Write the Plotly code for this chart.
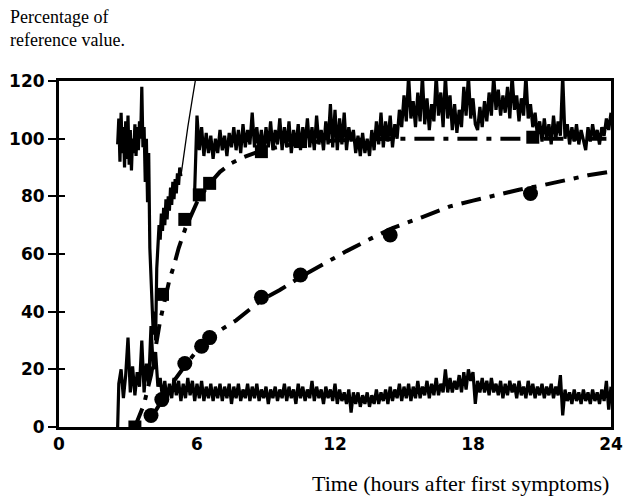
import numpy as np
import plotly.graph_objects as go

# ---------------- data ----------------
# upper monitoring trace, first part (sampled every 0.05 h from 2.55 h)
upper1_start, upper1_step = 2.55, 0.05
upper1_vals = [98, 107, 92, 109, 95, 104, 90, 106, 93, 108,
               91, 103, 89, 100, 95, 105, 94, 104, 96, 106,
               100, 118, 97, 104, 85, 100, 78, 95, 62, 50,
               38, 32, 40, 30, 55, 62, 70, 65, 74, 68,
               76, 70, 79, 72, 80, 75, 83, 77, 85, 79,
               86, 81, 88, 84, 90, 87]
# thin line running off the top of the scale
thin_t = [5.30, 5.40, 5.60, 5.80, 6.05]
thin_v = [87, 93, 104, 114, 126]

# upper monitoring trace, second part (every 0.1 h from 5.9 h)
upper2_start, upper2_step = 5.9, 0.1
upper2_vals = [82, 108, 96, 104, 94, 102, 95, 101, 93, 100,
               95, 103, 96, 101, 94, 102, 97, 104, 96, 103,
               95, 105, 97, 103, 98, 109, 97, 104, 96, 103,
               95, 104, 97, 106, 96, 103, 98, 107, 96, 104,
               97, 106, 95, 103, 97, 105, 96, 104, 98, 107,
               97, 104, 96, 108, 98, 103, 96, 106, 98, 112,
               97, 110, 96, 107, 98, 109, 96, 104, 99, 103,
               95, 101, 94, 102, 95, 100, 94, 103, 96, 106,
               98, 109, 97, 106, 99, 108, 97, 105, 100, 110,
               104, 115, 106, 122, 107, 113, 104, 116, 106, 122,
               105, 114, 103, 112, 106, 122, 108, 116, 104, 122,
               107, 115, 103, 112, 102, 110, 104, 118, 108, 122,
               107, 114, 105, 103, 111, 104, 113, 106, 116, 108,
               122, 110, 117, 108, 115, 109, 118, 107, 122, 110,
               115, 106, 114, 108, 122, 107, 112, 104, 109, 101,
               106, 99, 107, 100, 105, 98, 108, 100, 106, 101,
               122, 100, 105, 98, 104, 99, 105, 98, 103, 99,
               96, 104, 99, 105, 100, 103, 98, 104, 101, 107,
               103, 109]

# lower monitoring trace (every 0.1 h from 2.6 h, starts from zero at 2.55 h)
lower_t0, lower_v0 = 2.55, 0
lower_start, lower_step = 2.6, 0.1
lower_vals = [15, 20, 10, 18, 31, 12, 21, 11, 19, 14,
              30, 12, 22, 15, 35, 20, 26, 14, 17, 10,
              16, 9, 15, 10, 17, 11, 16, 9, 15, 10,
              17, 11, 16, 9, 15, 10, 16, 9, 14, 10,
              15, 9, 14, 10, 15, 9, 14, 10, 15, 8,
              14, 10, 15, 9, 13, 10, 15, 9, 14, 10,
              15, 9, 13, 10, 14, 8, 13, 10, 14, 9,
              13, 10, 15, 9, 14, 10, 13, 8, 15, 10,
              14, 9, 13, 10, 16, 9, 14, 10, 13, 8,
              14, 10, 13, 9, 15, 8, 13, 9, 12, 8,
              13, 5, 12, 8, 12, 7, 11, 8, 12, 7,
              11, 8, 13, 8, 12, 9, 13, 8, 14, 9,
              13, 10, 15, 9, 14, 10, 15, 9, 14, 10,
              16, 10, 14, 11, 16, 10, 15, 11, 17, 11,
              15, 12, 20, 12, 17, 12, 16, 13, 18, 12,
              19, 13, 20, 16, 19, 8, 16, 12, 17, 12,
              16, 11, 17, 12, 15, 11, 16, 10, 15, 11,
              16, 12, 15, 10, 16, 11, 14, 10, 16, 11,
              15, 10, 14, 11, 15, 10, 14, 11, 15, 10,
              14, 11, 18, 4, 13, 9, 12, 8, 13, 9,
              12, 8, 13, 9, 12, 8, 13, 9, 12, 8,
              13, 9, 16, 6, 14]

# measured points (squares) and their fitted curve
sq_t = [3.3, 4.5, 5.47, 6.1, 6.55, 8.8, 10.5, 20.6]
sq_v = [0, 46, 72, 80.5, 84.5, 95.5, 99, 100.5]
sqfit_t = [3.3, 3.7, 4.0, 4.2, 4.4, 4.6, 4.8, 5.0, 5.2, 5.5, 6.0, 6.5, 7.0,
           7.5, 8.0, 8.5, 9.0, 10, 11, 12, 13, 14, 16, 18, 20, 22, 24]
sqfit_v = [0, 8, 18, 28, 37, 44, 51, 56, 62, 69, 78, 84, 88.5,
           91.5, 93.5, 95, 96.3, 97.8, 98.8, 99.4, 99.7, 99.9, 100, 100, 100, 100, 100]

# measured points (circles) and their fitted curve
ci_t = [4.0, 4.47, 5.47, 6.2, 6.55, 8.8, 10.5, 14.4, 20.5]
ci_v = [4, 9.5, 22, 28, 31, 45, 52.7, 66.6, 81]
cifit_t = [4.0, 4.5, 5.0, 5.5, 6.0, 6.5, 7.0, 7.7, 8.3, 8.8, 9.6, 10.5, 11.5,
           12.5, 13.6, 14.5, 15.8, 17, 18, 19, 20, 21, 22, 23, 24]
cifit_v = [3, 9.5, 16, 21.5, 26.5, 30.5, 33.5, 37, 41, 44, 47.5, 52, 56.5,
           61, 65.5, 69, 72.8, 76.5, 78.5, 80.5, 82.3, 83.8, 85.6, 87.3, 88.6]

x_ticks = [0, 6, 12, 18, 24]
y_ticks = [0, 20, 40, 60, 80, 100, 120]

# ---------------- figure ----------------
upper1_t = [upper1_start + upper1_step * i for i in range(len(upper1_vals))]
upper2_t = [upper2_start + upper2_step * i for i in range(len(upper2_vals))]
lower_t = [lower_t0] + [lower_start + lower_step * i for i in range(len(lower_vals))]
lower_v = [lower_v0] + lower_vals

fig = go.Figure()
black = "#000000"
dashpat = "20px,9px,5px,9px"
trace_w = 3.2

fig.add_trace(go.Scatter(x=sqfit_t, y=sqfit_v, mode="lines",
                         line=dict(color=black, width=4, dash=dashpat)))
fig.add_trace(go.Scatter(x=cifit_t, y=cifit_v, mode="lines",
                         line=dict(color=black, width=4, dash=dashpat)))
fig.add_trace(go.Scatter(x=upper1_t, y=upper1_vals, mode="lines",
                         line=dict(color=black, width=trace_w)))
fig.add_trace(go.Scatter(x=thin_t, y=thin_v, mode="lines",
                         line=dict(color=black, width=1.3)))
fig.add_trace(go.Scatter(x=upper2_t, y=upper2_vals, mode="lines",
                         line=dict(color=black, width=trace_w)))
fig.add_trace(go.Scatter(x=lower_t, y=lower_v, mode="lines",
                         line=dict(color=black, width=trace_w)))
fig.add_trace(go.Scatter(x=sq_t, y=sq_v, mode="markers",
                         marker=dict(symbol="square", size=13, color=black)))
fig.add_trace(go.Scatter(x=ci_t, y=ci_v, mode="markers",
                         marker=dict(symbol="circle", size=15, color=black)))
# invisible trace for the inner tick axis
fig.add_trace(go.Scatter(x=[0], y=[0], mode="markers", yaxis="y2",
                         marker=dict(size=1, opacity=0), hoverinfo="skip"))

tickfont = dict(family="DejaVu Sans", size=17, color=black, weight="bold")
serif = dict(family="Liberation Serif", color=black)

fig.update_layout(
    width=626, height=498,
    margin=dict(l=59, r=15, t=81, b=71, autoexpand=False),
    paper_bgcolor="white", plot_bgcolor="white",
    showlegend=False,
    xaxis=dict(range=[0, 24], tickvals=x_ticks, ticktext=[str(v) for v in x_ticks],
               showgrid=False, zeroline=False, showline=True, linecolor=black,
               linewidth=3, mirror=True, ticks="", tickfont=tickfont,
               automargin=False),
    yaxis=dict(range=[0, 120], tickvals=y_ticks, ticktext=[str(v) for v in y_ticks],
               showgrid=False, zeroline=False, showline=True, linecolor=black,
               linewidth=3, mirror=True, ticks="outside", ticklen=8, tickwidth=2,
               tickcolor=black, tickfont=tickfont, automargin=False),
    yaxis2=dict(range=[0, 120], overlaying="y", side="left", tickvals=y_ticks,
                showgrid=False, zeroline=False, showline=False, showticklabels=False,
                ticks="inside", ticklen=6, tickwidth=2, tickcolor=black,
                automargin=False),
    annotations=[
        dict(text="Percentage of<br>reference value.", x=(8 - 59) / 552, xref="paper",
             y=(427 - 29) / 346, yref="paper", align="left",
             showarrow=False, xanchor="left", yanchor="middle",
             font=dict(size=18, **serif)),
        dict(text="Time (hours after first symptoms)", x=(460 - 59) / 552, xref="paper",
             y=(427 - 483) / 346, yref="paper", showarrow=False,
             xanchor="center", yanchor="middle",
             font=dict(size=22, **serif)),
    ],
)

fig.write_html("out.html")
